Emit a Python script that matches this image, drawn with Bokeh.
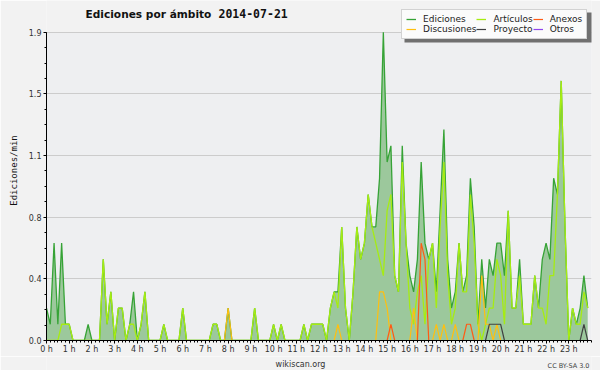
from bokeh.plotting import figure
from bokeh.layouts import column
from bokeh.models import (Range1d, FixedTicker, Label, Legend, LegendItem,
                          BoxAnnotation, ColumnDataSource, Title)
from bokeh.embed import file_html
from bokeh.resources import INLINE

# ---- data: edits per minute, 10-minute bins, 2014-07-21 (6 values per hour) ----
ediciones = [
    0.2, 0.1, 0.6, 0.1, 0.6, 0.1,   # 0 h
    0.1, 0, 0, 0, 0, 0.1,           # 1 h
    0, 0, 0, 0.5, 0.1, 0.3,         # 2 h
    0, 0.2, 0.2, 0, 0.1, 0.3,       # 3 h
    0, 0.1, 0.3, 0, 0, 0,           # 4 h
    0, 0.1, 0, 0, 0, 0,             # 5 h
    0.2, 0, 0, 0, 0, 0,             # 6 h
    0, 0, 0.1, 0.1, 0, 0,           # 7 h
    0.2, 0, 0, 0, 0, 0,             # 8 h
    0, 0.2, 0, 0, 0, 0,             # 9 h
    0.1, 0, 0.1, 0, 0, 0,           # 10 h
    0, 0, 0.1, 0, 0.1, 0.1,         # 11 h
    0.1, 0.1, 0, 0.2, 0.3, 0.3,     # 12 h
    0.7, 0.2, 0, 0.3, 0.7, 0.5,     # 13 h
    0.6, 0.9, 0.7, 0.7, 1.0, 1.9,   # 14 h
    1.1, 1.2, 0.4, 0.3, 1.2, 0.6,   # 15 h
    0.4, 0.3, 0.5, 1.1, 0.6, 0.5,   # 16 h
    0.6, 0.3, 0.8, 1.3, 0.5, 0.2,   # 17 h
    0.3, 0.6, 0.3, 0.4, 1.0, 0.7,   # 18 h
    0.1, 0.5, 0.2, 0.5, 0.4, 0.6,   # 19 h
    0.6, 0.4, 0.8, 0.2, 0.2, 0.5,   # 20 h
    0.1, 0.1, 0.1, 0.4, 0.2, 0.5,   # 21 h
    0.6, 0.5, 1.0, 0.9, 1.6, 0.7,   # 22 h
    0, 0.2, 0.1, 0.2, 0.4, 0.2,     # 23 h
]
articulos = [
    0, 0, 0, 0, 0.1, 0.1,
    0.1, 0, 0, 0, 0, 0,
    0, 0, 0, 0.5, 0.1, 0.3,
    0, 0.2, 0.2, 0, 0.1, 0.1,
    0, 0.1, 0.3, 0, 0, 0,
    0, 0.1, 0, 0, 0, 0,
    0.2, 0, 0, 0, 0, 0,
    0, 0, 0.1, 0.1, 0, 0,
    0, 0, 0, 0, 0, 0,
    0, 0.2, 0, 0, 0, 0,
    0.1, 0, 0.1, 0, 0, 0,
    0, 0, 0.1, 0, 0.1, 0.1,
    0.1, 0.1, 0, 0.2, 0.3, 0.2,
    0.7, 0.2, 0, 0.3, 0.7, 0.5,
    0.6, 0.9, 0.7, 0.6, 0.5, 0.4,
    0.8, 0.9, 0.4, 0.3, 1.1, 0.6,
    0.2, 0.1, 0.3, 0.4, 0.1, 0.5,
    0.6, 0.2, 0.7, 1.1, 0.4, 0.1,
    0.2, 0.6, 0.3, 0.3, 0.9, 0.6,
    0.1, 0, 0.1, 0.2, 0.2, 0.5,
    0.4, 0.1, 0.8, 0.2, 0.2, 0.4,
    0.1, 0.1, 0.1, 0.4, 0.2, 0.2,
    0.1, 0.4, 0.4, 0.9, 1.6, 0.7,
    0, 0.2, 0.1, 0.1, 0.3, 0.2,
]
discusiones = [
    0, 0, 0, 0, 0, 0,
    0, 0, 0, 0, 0, 0,
    0, 0, 0, 0, 0, 0,
    0, 0, 0, 0, 0, 0,
    0, 0, 0, 0, 0, 0,
    0, 0, 0, 0, 0, 0,
    0, 0, 0, 0, 0, 0,
    0, 0, 0, 0, 0, 0,
    0.2, 0, 0, 0, 0, 0,
    0, 0, 0, 0, 0, 0,
    0, 0, 0, 0, 0, 0,
    0, 0, 0, 0, 0, 0,
    0, 0, 0, 0, 0, 0.1,
    0, 0, 0, 0, 0, 0,
    0, 0, 0, 0, 0.3, 0.3,
    0.2, 0, 0, 0, 0, 0,
    0, 0.2, 0, 0, 0, 0,
    0, 0.1, 0, 0.1, 0, 0,
    0.1, 0, 0, 0, 0, 0,
    0, 0.4, 0.1, 0.1, 0, 0.1,
    0, 0, 0, 0, 0, 0,
    0, 0, 0, 0, 0, 0,
    0, 0, 0, 0, 0, 0,
    0, 0, 0, 0, 0, 0,
]
anexos = [
    0, 0, 0, 0, 0, 0,
    0, 0, 0, 0, 0, 0,
    0, 0, 0, 0, 0, 0,
    0, 0, 0, 0, 0, 0,
    0, 0, 0, 0, 0, 0,
    0, 0, 0, 0, 0, 0,
    0, 0, 0, 0, 0, 0,
    0, 0, 0, 0, 0, 0,
    0, 0, 0, 0, 0, 0,
    0, 0, 0, 0, 0, 0,
    0, 0, 0, 0, 0, 0,
    0, 0, 0, 0, 0, 0,
    0, 0, 0, 0, 0, 0,
    0, 0, 0, 0, 0, 0,
    0, 0, 0, 0, 0, 0,
    0, 0.1, 0, 0, 0, 0,
    0, 0, 0, 0.6, 0.5, 0,
    0, 0, 0, 0, 0, 0,
    0, 0, 0, 0.1, 0.1, 0,
    0, 0, 0, 0, 0, 0,
    0, 0, 0, 0, 0, 0,
    0, 0, 0, 0, 0, 0,
    0, 0, 0, 0, 0, 0,
    0, 0, 0, 0, 0, 0,
]
proyecto = [
    0, 0, 0, 0, 0, 0,
    0, 0, 0, 0, 0, 0,
    0, 0, 0, 0, 0, 0,
    0, 0, 0, 0, 0, 0,
    0, 0, 0, 0, 0, 0,
    0, 0, 0, 0, 0, 0,
    0, 0, 0, 0, 0, 0,
    0, 0, 0, 0, 0, 0,
    0, 0, 0, 0, 0, 0,
    0, 0, 0, 0, 0, 0,
    0, 0, 0, 0, 0, 0,
    0, 0, 0, 0, 0, 0,
    0, 0, 0, 0, 0, 0,
    0, 0, 0, 0, 0, 0,
    0, 0, 0, 0, 0, 0,
    0, 0, 0, 0, 0, 0,
    0, 0, 0, 0, 0, 0,
    0, 0, 0, 0, 0, 0,
    0, 0, 0, 0, 0, 0,
    0, 0, 0, 0.1, 0.1, 0.1,
    0.1, 0, 0, 0, 0, 0,
    0, 0, 0, 0, 0, 0,
    0, 0, 0, 0, 0, 0,
    0, 0, 0, 0, 0.1, 0,
]
otros = [0] * 144

y_ticks = [0, 0.38, 0.76, 1.14, 1.52, 1.9]
y_tick_labels = ["0.0", "0.4", "0.8", "1.1", "1.5", "1.9"]
x_ticks = list(range(24))
x_tick_labels = ["0 h", "1 h", "2 h", "3 h", "4 h", "5 h", "6 h", "7 h", "8 h",
                 "9 h", "10 h", "11 h", "12 h", "13 h", "14 h", "15 h", "16 h",
                 "17 h", "18 h", "19 h", "20 h", "21 h", "22 h", "23 h"]
Y_MAX = 1.9

times = [i / 6 for i in range(len(ediciones))]   # hours

src = ColumnDataSource(dict(t=times, ed=ediciones, art=articulos, disc=discusiones,
                            anx=anexos, proy=proyecto, otr=otros))

FONT = "DejaVu Sans"
OUTER = "#f2f2f2"
PLOT_BG = "#eeeff1"

# frame spans page y 0..343; the data area occupies y 32..343 (0 .. Y_MAX)
FRAME_H = 343
DATA_H = 311
p = figure(width=600, height=356, output_backend="svg", toolbar_location=None,
           x_range=Range1d(0, 24), y_range=Range1d(0, Y_MAX * FRAME_H / DATA_H),
           min_border_left=46, min_border_right=9, min_border_top=0, min_border_bottom=13,
           background_fill_color=OUTER, border_fill_color=OUTER,
           outline_line_color=None)

# plot-area background up to the top of the y scale
p.add_layout(BoxAnnotation(top=Y_MAX, fill_color=PLOT_BG, fill_alpha=1,
                           line_color=None, level="image"))

p.varea(x="t", y1=0, y2="ed", source=src, fill_color="#9cc89c", fill_alpha=1)
r_ed = p.line("t", "ed", source=src, line_color="#36a336", line_width=1.3)
r_art = p.line("t", "art", source=src, line_color="#a6ec12", line_width=1.3)
r_disc = p.line("t", "disc", source=src, line_color="#ffbf10", line_width=1.2)
r_anx = p.line("t", "anx", source=src, line_color="#ff5a14", line_width=1.2)
r_proy = p.line("t", "proy", source=src, line_color="#404040", line_width=1.2)
r_otr = p.line("t", "otr", source=src, line_color="#9044ee", line_width=1.2)

# axes / grid
yt = FixedTicker(ticks=y_ticks, minor_ticks=[k * 0.095 for k in range(21)])
xt = FixedTicker(ticks=x_ticks, minor_ticks=[k / 6 for k in range(145)])
p.yaxis.ticker = yt
p.xaxis.ticker = xt
p.ygrid.ticker = yt
p.yaxis.bounds = (0, Y_MAX)
p.xgrid.visible = False
p.ygrid.grid_line_color = "#cccccc"
p.yaxis.major_label_overrides = dict(zip(y_ticks, y_tick_labels))
p.xaxis.major_label_overrides = dict(zip(x_ticks, x_tick_labels))

for ax in (p.xaxis, p.yaxis):
    ax.axis_line_color = "black"
    ax.axis_line_width = 1
    ax.major_tick_line_color = "black"
    ax.minor_tick_line_color = "black"
    ax.major_tick_in = 0
    ax.minor_tick_in = 0
    ax.major_tick_out = 3
    ax.minor_tick_out = 2
    ax.major_label_text_font = FONT
    ax.major_label_text_font_size = "8px"
    ax.major_label_text_color = "#333333"
p.xaxis.major_label_standoff = 1
p.yaxis.major_label_standoff = 2

# y-axis title, shifted down to sit beside the data area
p.add_layout(Title(text="Ediciones/min", align="center", offset=-21, standoff=13,
                   text_font="DejaVu Sans Mono", text_font_size="9px",
                   text_font_style="normal", text_color="#111111"), "left")

# chart title (inside the frame area above the data region)
p.add_layout(Label(x=39, y=327, x_units="screen", y_units="screen",
                   text="Ediciones por ámbito", text_font=FONT,
                   text_font_style="bold", text_font_size="10.6px",
                   text_baseline="middle", text_color="#111111"))
p.add_layout(Label(x=172, y=327, x_units="screen", y_units="screen",
                   text="2014-07-21", text_font="DejaVu Sans Mono",
                   text_font_style="bold", text_font_size="11.5px",
                   text_baseline="middle", text_color="#111111"))

# legend with shadow
p.add_layout(BoxAnnotation(left=358, right=548, bottom=298, top=328,
                           left_units="screen", right_units="screen",
                           bottom_units="screen", top_units="screen",
                           fill_color="#707070", fill_alpha=1, line_color=None))
legend = Legend(items=[
    LegendItem(label="Ediciones", renderers=[r_ed]),
    LegendItem(label="Artículos", renderers=[r_art]),
    LegendItem(label="Anexos", renderers=[r_anx]),
    LegendItem(label="Discusiones", renderers=[r_disc]),
    LegendItem(label="Proyecto", renderers=[r_proy]),
    LegendItem(label="Otros", renderers=[r_otr]),
], location=(355, 301), orientation="horizontal", ncols=3,
    label_text_font=FONT, label_text_font_size="9px", label_text_color="#222222",
    glyph_width=10, glyph_height=8, label_height=8, label_standoff=7,
    spacing=0, padding=4, margin=0,
    border_line_color="#aaaaaa", background_fill_color="#fbfbfb",
    background_fill_alpha=1)
p.add_layout(legend, "center")

# footer with credits (its frame is aligned with the main frame: x 46..591)
foot = figure(width=600, height=14, output_backend="svg", toolbar_location=None,
              x_range=Range1d(0, 1), y_range=Range1d(0, 1),
              x_axis_type=None, y_axis_type=None,
              min_border_left=0, min_border_right=0, min_border_top=0, min_border_bottom=0,
              background_fill_color=OUTER, border_fill_color=OUTER,
              outline_line_color=None)
foot.add_layout(Label(x=254, y=6, x_units="screen", y_units="screen",
                      text="wikiscan.org", text_font=FONT, text_font_size="8px",
                      text_align="center", text_baseline="alphabetic", text_color="#333333"))
foot.add_layout(Label(x=543, y=5, x_units="screen", y_units="screen",
                      text="CC BY-SA 3.0", text_font=FONT, text_font_size="6.5px",
                      text_align="right", text_baseline="alphabetic", text_color="#444444"))

layout = column(p, foot, spacing=0)
open("out.html", "w").write(file_html(layout, INLINE))
